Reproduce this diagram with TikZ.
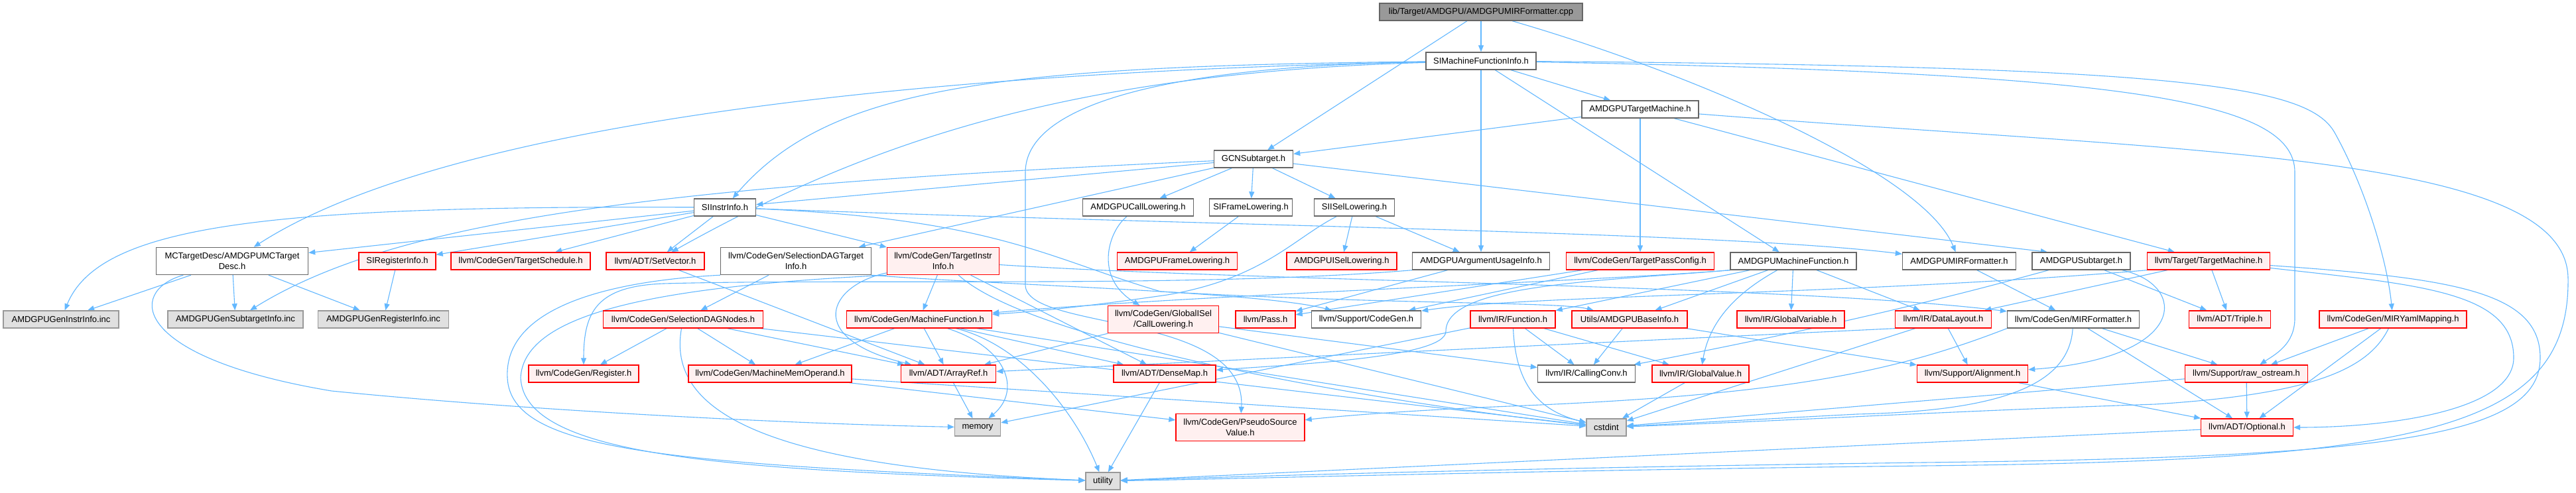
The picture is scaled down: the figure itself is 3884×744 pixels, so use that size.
\documentclass[tikz,border=0pt]{standalone}
\usepackage{fontspec}
\setmainfont{Liberation Sans}
\usetikzlibrary{arrows.meta}
\definecolor{edgec}{RGB}{99,184,255}
\definecolor{redfill}{RGB}{255,240,240}
\definecolor{grayfill}{RGB}{224,224,224}
\definecolor{graydraw}{RGB}{153,153,153}
\definecolor{whitedraw}{RGB}{102,102,102}
\definecolor{rootfill}{RGB}{153,153,153}
\pgfdeclarelayer{bg}
\pgfsetlayers{bg,main}
\tikzset{
  nbase/.style={rectangle, draw, line width=1.4pt, inner sep=0pt, minimum height=26pt,
    font=\fontsize{13}{15.5}\selectfont, align=center},
  nw/.style={nbase, fill=white, draw=whitedraw},
  nr/.style={nbase, fill=redfill, draw=red},
  ng/.style={nbase, fill=grayfill, draw=graydraw},
  nroot/.style={nbase, fill=rootfill, draw=whitedraw},
  tall/.style={minimum height=41pt},
  conn/.style={draw=edgec, line width=1.1pt, -{Triangle[length=10pt,width=8pt]}},
}
\begin{document}
\begin{tikzpicture}[x=1pt,y=-1pt]
\useasboundingbox (0,0) rectangle (3884,744);
% row 0-3
\node[nroot, minimum width=306pt] (root) at (2233,18) {lib/Target/AMDGPU/AMDGPUMIRFormatter.cpp};
\node[nw, minimum width=166pt] (simfi) at (2233,92) {SIMachineFunctionInfo.h};
\node[nw, minimum width=176pt] (atm) at (2473,165) {AMDGPUTargetMachine.h};
\node[nw, minimum width=119pt] (gcn) at (1890,240) {GCNSubtarget.h};
% row 4
\node[nw, minimum width=93pt] (siii) at (1093,313) {SIInstrInfo.h};
\node[nw, minimum width=167pt] (acl) at (1716,313) {AMDGPUCallLowering.h};
\node[nw, minimum width=125pt] (sifl) at (1886,313) {SIFrameLowering.h};
\node[nw, minimum width=121pt] (sisl) at (2042,313) {SIISelLowering.h};
% row 5
\node[nw, tall, minimum width=229pt] (mctd) at (350,394) {MCTargetDesc/AMDGPUMCTarget\\Desc.h};
\node[nr, minimum width=116pt] (sireg) at (599,394) {SIRegisterInfo.h};
\node[nr, minimum width=210pt] (tsched) at (785,394) {llvm/CodeGen/TargetSchedule.h};
\node[nr, minimum width=148pt] (setvec) at (988,394) {llvm/ADT/SetVector.h};
\node[nw, tall, minimum width=227pt] (sdti) at (1200,394) {llvm/CodeGen/SelectionDAGTarget\\Info.h};
\node[nr, tall, minimum width=169pt] (tii) at (1422,394) {llvm/CodeGen/TargetInstr\\Info.h};
\node[nr, minimum width=181pt] (afl) at (1775,394) {AMDGPUFrameLowering.h};
\node[nr, minimum width=166pt] (aisl) at (2023,394) {AMDGPUISelLowering.h};
\node[nw, minimum width=207pt] (aaui) at (2233,394) {AMDGPUArgumentUsageInfo.h};
\node[nr, minimum width=223pt] (tpc) at (2473,394) {llvm/CodeGen/TargetPassConfig.h};
\node[nw, minimum width=190pt] (amf) at (2704,394) {AMDGPUMachineFunction.h};
\node[nw, minimum width=171pt] (amirf) at (2954,394) {AMDGPUMIRFormatter.h};
\node[nw, minimum width=148pt] (asub) at (3138,394) {AMDGPUSubtarget.h};
\node[nr, minimum width=185pt] (tm) at (3330,394) {llvm/Target/TargetMachine.h};
% row 6
\node[ng, minimum width=174pt] (geninstr) at (92,482) {AMDGPUGenInstrInfo.inc};
\node[ng, minimum width=204pt] (gensub) at (355,482) {AMDGPUGenSubtargetInfo.inc};
\node[ng, minimum width=197pt] (genreg) at (578,482) {AMDGPUGenRegisterInfo.inc};
\node[nr, minimum width=241pt] (sdn) at (1030,482) {llvm/CodeGen/SelectionDAGNodes.h};
\node[nr, minimum width=219pt] (mf) at (1386,482) {llvm/CodeGen/MachineFunction.h};
\node[nr, tall, minimum width=167pt] (gcl) at (1754,482) {llvm/CodeGen/GlobalISel\\/CallLowering.h};
\node[nr, minimum width=90pt] (pass) at (1908,482) {llvm/Pass.h};
\node[nw, minimum width=165pt] (scg) at (2060,482) {llvm/Support/CodeGen.h};
\node[nr, minimum width=128pt] (func) at (2281,482) {llvm/IR/Function.h};
\node[nr, minimum width=174pt] (abi) at (2457,482) {Utils/AMDGPUBaseInfo.h};
\node[nr, minimum width=162pt] (gvar) at (2700,482) {llvm/IR/GlobalVariable.h};
\node[nr, minimum width=145pt] (dl) at (2930,482) {llvm/IR/DataLayout.h};
\node[nw, minimum width=199pt] (mirf) at (3126,482) {llvm/CodeGen/MIRFormatter.h};
\node[nr, minimum width=123pt] (triple) at (3362,482) {llvm/ADT/Triple.h};
\node[nr, minimum width=222pt] (miry) at (3608,482) {llvm/CodeGen/MIRYamlMapping.h};
% row 7
\node[nr, minimum width=166pt] (reg) at (880,564) {llvm/CodeGen/Register.h};
\node[nr, minimum width=246pt] (mmo) at (1161,564) {llvm/CodeGen/MachineMemOperand.h};
\node[nr, minimum width=143pt] (aref) at (1430,564) {llvm/ADT/ArrayRef.h};
\node[nr, minimum width=154pt] (dmap) at (1756,564) {llvm/ADT/DenseMap.h};
\node[nw, minimum width=147pt] (cconv) at (2392,564) {llvm/IR/CallingConv.h};
\node[nr, minimum width=146pt] (gval) at (2564,564) {llvm/IR/GlobalValue.h};
\node[nr, minimum width=167pt] (alignh) at (2974,564) {llvm/Support/Alignment.h};
\node[nr, minimum width=185pt] (raw) at (3387,564) {llvm/Support/raw\_ostream.h};
% row 8-9
\node[ng, minimum width=69pt] (memory) at (1474,645) {memory};
\node[nr, tall, minimum width=194pt] (psv) at (1870,645) {llvm/CodeGen/PseudoSource\\Value.h};
\node[ng, minimum width=60pt] (cstdint) at (2422,645) {cstdint};
\node[nr, minimum width=139pt] (opt) at (3388,645) {llvm/ADT/Optional.h};
\node[ng, minimum width=52pt] (utility) at (1663,726) {utility};

\begin{pgfonlayer}{bg}
\fill[white] (0,0) rectangle (3884,744);
% root
\draw[conn] (root) -- (simfi);
\draw[conn] (root) -- (gcn);
\draw[conn] (root) .. controls (2550,110) and (2900,260) .. (amirf);
% SIMachineFunctionInfo
\draw[conn] (simfi) -- (atm);
\draw[conn] (simfi) -- (aaui);
\draw[conn] (simfi) -- (amf);
\draw[conn] (simfi) .. controls (1300,110) and (650,200) .. (mctd);
\draw[conn] (simfi) .. controls (1500,100) and (1250,130) .. (siii);
\draw[conn] (simfi) .. controls (1600,110) and (1300,220) .. (setvec);
\draw[conn] (simfi) .. controls (1750,100) and (1546,160) .. (1546,260) -- (1546,430) .. controls (1546,500) and (1880,470) .. (psv);
\draw[conn] (simfi) .. controls (3300,100) and (3480,130) .. (3520,200) .. controls (3570,290) and (3600,400) .. (miry);
\draw[conn] (simfi) .. controls (3200,110) and (3460,150) .. (3460,260) -- (3460,480) .. controls (3460,520) and (3430,535) .. (raw);
% AMDGPUTargetMachine
\draw[conn] (atm) -- (gcn);
\draw[conn] (atm) -- (tpc);
\draw[conn] (atm) -- (tm);
\draw[conn] (atm) .. controls (3300,230) and (3870,230) .. (3872,420) .. controls (3875,650) and (3650,695) .. (2900,703) .. controls (2300,710) and (1900,722) .. (utility);
% GCNSubtarget
\draw[conn] (gcn) -- (siii);
\draw[conn] (gcn) -- (acl);
\draw[conn] (gcn) -- (sifl);
\draw[conn] (gcn) -- (sisl);
\draw[conn] (gcn) -- (asub.165);
\draw[conn] (gcn) -- (sdti);
\draw[conn] (gcn) .. controls (1000,280) and (600,330) .. (gensub);
% SIInstrInfo
\draw[conn] (siii) .. controls (400,310) and (150,340) .. (geninstr);
\draw[conn] (siii) -- (mctd);
\draw[conn] (siii) -- (sireg);
\draw[conn] (siii) -- (tsched);
\draw[conn] (siii) -- (setvec);
\draw[conn] (siii) -- (tii);
\draw[conn] (siii) .. controls (1500,330) and (1580,390) .. (1750,440) .. controls (2100,460) and (2350,455) .. (abi);
\draw[conn] (siii) .. controls (1800,340) and (2600,350) .. (amirf);
% row 4 others
\draw[conn] (acl) .. controls (1670,350) and (1650,420) .. (gcl);
\draw[conn] (sifl) -- (afl);
\draw[conn] (sisl) -- (aisl);
\draw[conn] (sisl) -- (aaui);
\draw[conn] (sisl) .. controls (1950,360) and (1905,420) .. (1760,445) .. controls (1620,465) and (1560,470) .. (mf);
% row 5
\draw[conn] (mctd) -- (geninstr);
\draw[conn] (mctd) -- (gensub);
\draw[conn] (mctd) -- (genreg);
\draw[conn] (mctd) .. controls (190,440) and (200,540) .. (500,590) .. controls (800,620) and (1200,640) .. (memory);
\draw[conn] (sireg) -- (genreg);
\draw[conn] (setvec) -- (aref);
\draw[conn] (sdti) -- (sdn);
\draw[conn] (sdti.south east) .. controls (1500,430) and (1900,440) .. (scg);
\draw[conn] (sdti.south west) .. controls (900,425) and (760,470) .. (765,570) .. controls (770,680) and (1000,700) .. (utility);
\draw[conn] (tii) -- (mf);
\draw[conn] (tii) .. controls (1250,430) and (1210,510) .. (aref);
\draw[conn] (tii) -- (dmap);
\draw[conn] (tii) .. controls (1900,425) and (2700,430) .. (mirf);
\draw[conn] (tii) .. controls (1560,520) and (2100,610) .. (cstdint);
\draw[conn] (tii.south west) .. controls (1000,432) and (790,470) .. (785,570) .. controls (790,690) and (1100,710) .. (utility);
\draw[conn] (aaui) -- (pass);
\draw[conn] (aaui.south west) .. controls (1800,435) and (1300,420) .. (1000,428) .. controls (900,432) and (880,470) .. (reg);
\draw[conn] (tpc) -- (pass);
\draw[conn] (tpc) -- (scg);
\draw[conn] (amf) -- (abi);
\draw[conn] (amf) .. controls (2640,430) and (2580,470) .. (gval);
\draw[conn] (amf) -- (gvar);
\draw[conn] (amf) -- (dl);
\draw[conn] (amf) -- (func);
\draw[conn] (amf.south west) .. controls (2400,425) and (1800,445) .. (mf);
\draw[conn] (amf.south west) .. controls (2400,425) and (2180,430) .. (2180,500) .. controls (2180,540) and (1950,550) .. (dmap);
\draw[conn] (amirf) -- (mirf);
\draw[conn] (asub) .. controls (2900,460) and (2700,505) .. (cconv);
\draw[conn] (asub) .. controls (3300,430) and (3300,540) .. (alignh);
\draw[conn] (asub) -- (triple);
\draw[conn] (tm) -- (dl);
\draw[conn] (tm) -- (triple);
\draw[conn] (tm.south west) .. controls (2800,445) and (2300,445) .. (scg);
\draw[conn] (tm) .. controls (3650,430) and (3790,440) .. (3790,540) .. controls (3790,620) and (3600,645) .. (opt);
\draw[conn] (tm) .. controls (3700,420) and (3830,440) .. (3830,540) .. controls (3830,660) and (3600,690) .. (2900,698) .. controls (2300,706) and (1900,718) .. (utility);
% row 6
\draw[conn] (sdn) -- (reg);
\draw[conn] (sdn) -- (mmo);
\draw[conn] (sdn) -- (aref);
\draw[conn] (sdn) -- (cstdint);
\draw[conn] (sdn) .. controls (1005,620) and (1150,705) .. (utility);
\draw[conn] (mf) -- (mmo);
\draw[conn] (mf) -- (aref);
\draw[conn] (mf) -- (dmap);
\draw[conn] (mf) .. controls (1520,525) and (1540,590) .. (memory);
\draw[conn] (mf) .. controls (1540,520) and (1620,620) .. (utility);
\draw[conn] (mf) -- (cstdint);
\draw[conn] (gcl) -- (aref);
\draw[conn] (gcl) -- (cconv);
\draw[conn] (gcl) -- (cstdint);
\draw[conn] (func) -- (cconv);
\draw[conn] (func) -- (gval);
\draw[conn] (func) .. controls (2285,580) and (2320,620) .. (cstdint);
\draw[conn] (func) -- (memory);
\draw[conn] (abi) -- (cconv);
\draw[conn] (abi) -- (alignh);
\draw[conn] (dl.south west) -- (aref);
\draw[conn] (dl) -- (alignh);
\draw[conn] (dl) -- (cstdint);
\draw[conn] (mirf) -- (opt);
\draw[conn] (mirf) -- (raw);
\draw[conn] (mirf.south west) .. controls (2860,560) and (2700,595) .. (2300,612) .. controls (2100,620) and (2000,630) .. (psv);
\draw[conn] (mirf) .. controls (3120,580) and (3020,620) .. (2800,625) -- (cstdint);
\draw[conn] (miry) -- (raw);
\draw[conn] (miry) -- (opt);
\draw[conn] (miry) .. controls (3570,560) and (3480,595) .. (3250,610) .. controls (2900,622) and (2700,635) .. (cstdint);
% row 7-8
\draw[conn] (mmo) -- (psv);
\draw[conn] (mmo) -- (cstdint);
\draw[conn] (aref) -- (memory);
\draw[conn] (dmap) -- (utility);
\draw[conn] (gval) -- (cstdint);
\draw[conn] (alignh) -- (opt);
\draw[conn] (raw) -- (opt);
\draw[conn] (raw) -- (cstdint);
\draw[conn] (opt) -- (utility);
\end{pgfonlayer}
\end{tikzpicture}
\end{document}
